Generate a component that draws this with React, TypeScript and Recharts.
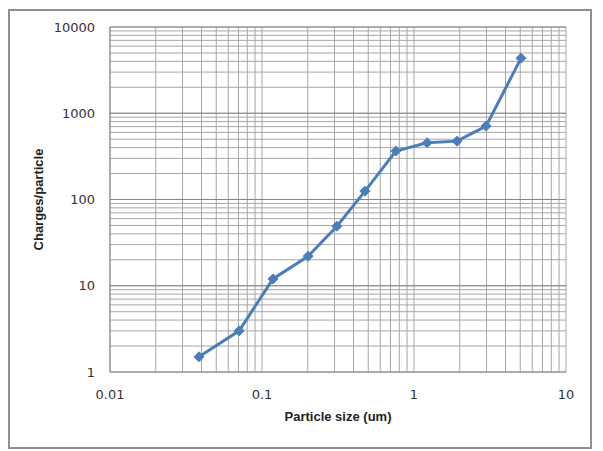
import React from 'react';
import { LineChart, Line, XAxis, YAxis, CartesianGrid, ReferenceLine } from 'recharts';

const sizes = [0.0385, 0.0707, 0.118, 0.201, 0.311, 0.476, 0.76, 1.22, 1.92, 2.98, 5.06];
const charges = [1.5, 3, 12, 22, 49, 125, 365, 455, 475, 710, 4350];

const xTicks = [0.01, 0.02, 0.03, 0.04, 0.05, 0.06, 0.07, 0.08, 0.09, 0.1, 0.2, 0.3, 0.4, 0.5, 0.6, 0.7, 0.8, 0.9, 1, 2, 3, 4, 5, 6, 7, 8, 9, 10];
const xLabels = [0.01, 0.1, 1, 10];
const yTicks = [1, 2, 3, 4, 5, 6, 7, 8, 9, 10, 20, 30, 40, 50, 60, 70, 80, 90, 100, 200, 300, 400, 500, 600, 700, 800, 900, 1000, 2000, 3000, 4000, 5000, 6000, 7000, 8000, 9000, 10000];
const yLabels = [1, 10, 100, 1000, 10000];
const yMajor = [10, 100, 1000, 10000];

const data = sizes.map((s, i) => ({ size: s, charge: charges[i] }));

const tickStyle = { fontFamily: 'DejaVu Sans', fontSize: 13, fill: '#333' };
const labelFont = 'Liberation Sans';

const Diamond = (props: any) => {
  const { cx, cy, index } = props;
  if (cx == null || cy == null) return null;
  const r = 5;
  return (
    <path
      key={`d-${index}`}
      d={`M${cx},${cy - r}L${cx + r},${cy}L${cx},${cy + r}L${cx - r},${cy}Z`}
      fill="#4a7ebb"
      stroke="#4a7ebb"
    />
  );
};

export default function App() {
  return (
    <div style={{ position: 'absolute', left: 0, top: 0, width: 603, height: 451, background: '#fff' }}>
      <div
        style={{
          position: 'absolute',
          left: 8,
          top: 9,
          width: 580,
          height: 436,
          border: '2px solid #8f8f8f',
        }}
      />
      <div style={{ position: 'absolute', left: 0, top: 0 }}>
        <LineChart width={603} height={451} data={data} margin={{ top: 27, right: 37, left: 30, bottom: 49 }}>
          <CartesianGrid stroke="#a6a6a6" strokeWidth={1} />
          <XAxis
            dataKey="size"
            type="number"
            scale="log"
            domain={[0.01, 10]}
            ticks={xTicks}
            interval={0}
            allowDataOverflow
            height={30}
            tickLine={false}
            tickMargin={12}
            axisLine={{ stroke: '#868686' }}
            tick={tickStyle}
            tickFormatter={(v: number) => (xLabels.indexOf(v) >= 0 ? String(v) : '')}
            label={{
              value: 'Particle size (um)',
              position: 'bottom',
              offset: 10,
              style: { fontFamily: labelFont, fontSize: 13, fontWeight: 'bold', fill: '#222' },
            }}
          />
          <YAxis
            dataKey="charge"
            type="number"
            scale="log"
            domain={[1, 10000]}
            ticks={yTicks}
            interval={0}
            allowDataOverflow
            width={80}
            tickLine={false}
            tickMargin={9}
            axisLine={{ stroke: '#868686' }}
            tick={tickStyle}
            tickFormatter={(v: number) => (yLabels.indexOf(v) >= 0 ? String(v) : '')}
            label={{
              value: 'Charges/particle',
              angle: -90,
              position: 'insideLeft',
              offset: 8,
              style: { fontFamily: labelFont, fontSize: 13, fontWeight: 'bold', fill: '#222', textAnchor: 'middle' },
            }}
          />
          {yMajor.map((v) => (
            <ReferenceLine key={v} y={v} stroke="#868686" strokeWidth={1} ifOverflow="extendDomain" />
          ))}
          <Line
            type="linear"
            dataKey="charge"
            stroke="#4a7ebb"
            strokeWidth={3}
            dot={Diamond}
            activeDot={false}
            isAnimationActive={false}
          />
        </LineChart>
      </div>
    </div>
  );
}
